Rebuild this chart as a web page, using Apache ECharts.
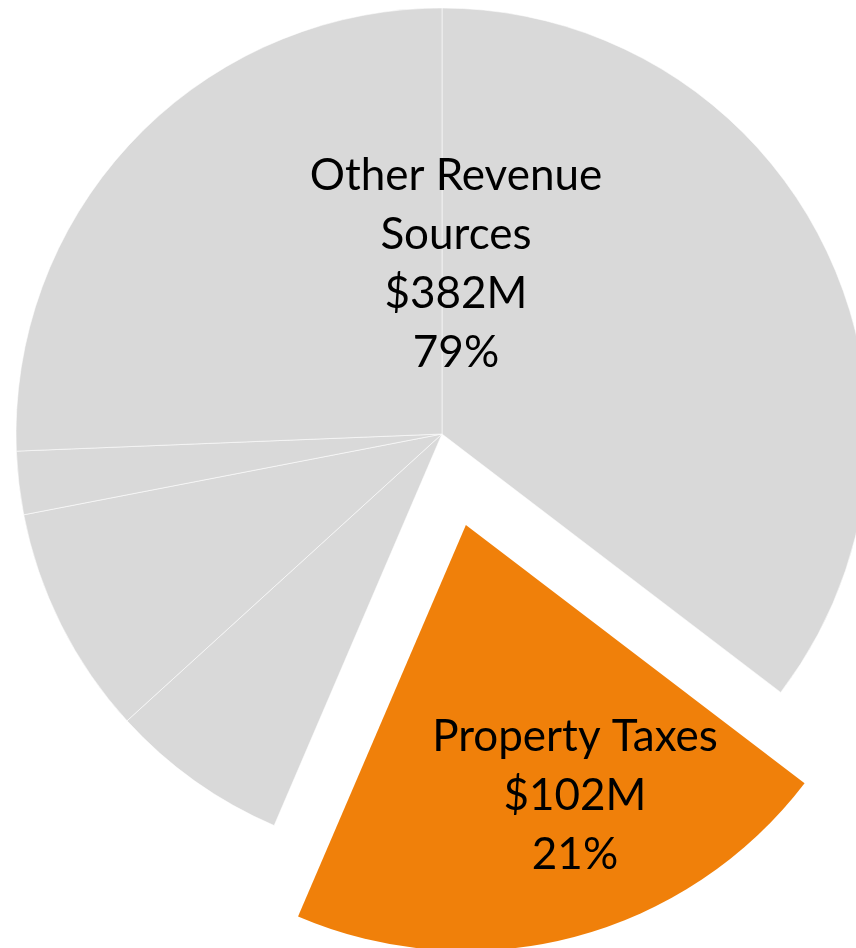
<!DOCTYPE html>
<html lang="en">

<head>
    <meta charset="UTF-8">
    <title>Revenue Sources</title>
    <script src="https://cdn.jsdelivr.net/npm/echarts/dist/echarts.min.js"></script>
    <style>
        html, body { margin: 0; padding: 0; background: #fff; }
        #chart { width: 856px; height: 948px; }
    </style>
</head>

<body>
    <div id="chart"></div>

    <script>
        // 数据 ($M)
        const categories = ['Other Revenue Sources', 'Property Taxes'];
        // gray wedges, clockwise from 12 o'clock; the first one sits before Property Taxes
        const otherParts = [171.2, 32.9, 42.2, 11.6, 124.1];
        const propertyTaxes = 102;

        const otherTotal = otherParts.reduce((a, b) => a + b, 0);
        const grandTotal = otherTotal + propertyTaxes;
        const pct = v => Math.round(v / grandTotal * 100) + '%';
        const money = v => '$' + Math.round(v) + 'M';

        const GRAY = '#D9D9D9';
        const ORANGE = '#F0800A';
        const NONE = 'rgba(0,0,0,0)';

        const cx = 442, cy = 434, R = 426, explode = 94;

        // pulled-out slice: same pie, centre moved along its mid angle
        const midDeg = (otherParts[0] + propertyTaxes / 2) / grandTotal * 360;
        const midRad = midDeg * Math.PI / 180;
        const cx2 = cx + explode * Math.sin(midRad);
        const cy2 = cy - explode * Math.cos(midRad);

        const labelFont = {
            fontFamily: 'Lato',
            fontSize: 44,
            lineHeight: 59,
            color: '#000',
            align: 'center'
        };

        // order of wedges around the pie
        const order = [
            { name: categories[0], value: otherParts[0] },
            { name: categories[1], value: propertyTaxes },
            ...otherParts.slice(1).map(v => ({ name: categories[0], value: v }))
        ];

        const grayData = order.map((d, i) => {
            const isProp = d.name === categories[1];
            return {
                name: d.name,
                value: d.value,
                itemStyle: isProp
                    ? { color: NONE, borderWidth: 0 }
                    : { color: GRAY, borderColor: 'rgba(255,255,255,0.55)', borderWidth: 1 },
                label: i === 0
                    ? Object.assign({ show: true, position: 'inside', formatter: 'Other Revenue\nSources\n' + money(otherTotal) + '\n' + pct(otherTotal) }, labelFont)
                    : { show: false }
            };
        });

        const orangeData = order.map(d => {
            const isProp = d.name === categories[1];
            return {
                name: d.name,
                value: d.value,
                itemStyle: { color: isProp ? ORANGE : NONE, borderWidth: 0 },
                label: isProp
                    ? Object.assign({ show: true, position: 'inside', formatter: categories[1] + '\n' + money(propertyTaxes) + '\n' + pct(propertyTaxes) }, labelFont)
                    : { show: false }
            };
        });

        const spot = (x, y) => () => ({ x: x, y: y, align: 'center', verticalAlign: 'middle' });

        const common = {
            type: 'pie',
            radius: R,
            startAngle: 90,
            clockwise: true,
            avoidLabelOverlap: false,
            labelLine: { show: false },
            emphasis: { disabled: true }
        };

        const chart = echarts.init(document.getElementById('chart'));
        chart.setOption({
            animation: false,
            series: [
                Object.assign({}, common, {
                    center: [cx, cy],
                    labelLayout: spot(456, 264),
                    data: grayData
                }),
                Object.assign({}, common, {
                    center: [cx2, cy2],
                    silent: true,
                    labelLayout: spot(575, 796),
                    data: orangeData
                })
            ]
        });
    </script>
</body>

</html>
